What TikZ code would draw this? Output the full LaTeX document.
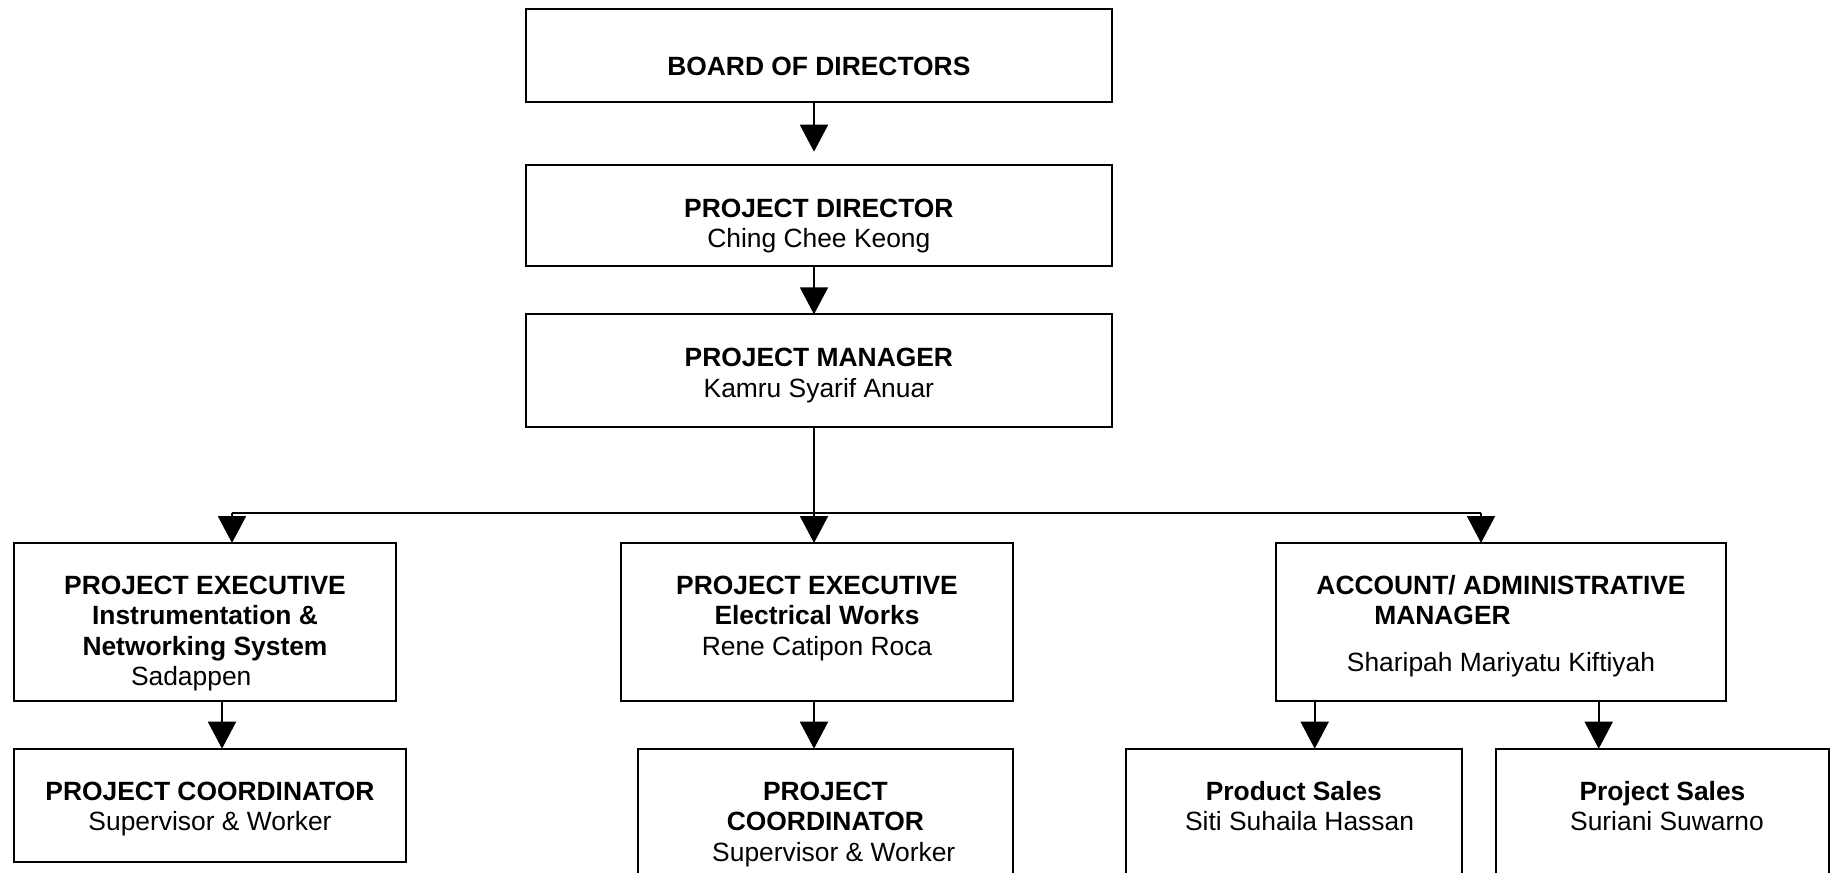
\documentclass[tikz,border=0pt]{standalone}
\usepackage{fontspec}
\setmainfont{Liberation Sans}
\usetikzlibrary{arrows.meta}
\newcommand{\OrgTxt}[4]{\parbox[c][#2][t]{#1}{\fontsize{13.2pt}{15.25pt}\selectfont\centering\vspace*{#3}#4}}
\tikzset{
  orgbox/.style={draw, line width=1pt, inner sep=0pt, outer sep=0pt, anchor=north west},
  arr/.style={line width=1pt, -{Triangle[width=14pt,length=13.5pt]}},
  bus/.style={line width=1pt}
}
\begin{document}
\begin{tikzpicture}[x=0.5pt,y=-0.5pt]
\useasboundingbox (0,0) rectangle (1832,873);
\clip (0,0) rectangle (1832,873);
\fill[white] (0,0) rectangle (1832,873);

\node[orgbox] (board) at (526,9) {\OrgTxt{292.85pt}{46.65pt}{22.8pt}{\strut\textbf{BOARD OF DIRECTORS}}};
\node[orgbox] (pd) at (526,164.7) {\OrgTxt{292.85pt}{50.5pt}{15.6pt}{\strut\textbf{PROJECT DIRECTOR}\\\strut Ching Chee Keong}};
\node[orgbox] (pm) at (526,314.3) {\OrgTxt{292.85pt}{56.2pt}{15.5pt}{\strut\textbf{PROJECT MANAGER}\\\strut Kamru Syarif Anuar}};

\node[orgbox] (pe1) at (14,543) {\OrgTxt{191pt}{79pt}{15pt}{\strut\textbf{PROJECT EXECUTIVE}\\\strut\textbf{Instrumentation \&}\\\strut\textbf{Networking System}\\\strut Sadappen\hspace*{13.8pt}\null}};
\node[orgbox] (pe2) at (621,543) {\OrgTxt{196pt}{79pt}{15pt}{\strut\textbf{PROJECT EXECUTIVE}\\\strut\textbf{Electrical Works}\\\strut Rene Catipon Roca}};
\node[orgbox] (acc) at (1275.7,543) {\OrgTxt{225.3pt}{79pt}{15pt}{\strut\textbf{ACCOUNT/ ADMINISTRATIVE}\\\strut\textbf{MANAGER}\hspace*{58.5pt}\null\\[8.1pt]\strut Sharipah Mariyatu Kiftiyah}};

\node[orgbox] (pc1) at (14,748.7) {\OrgTxt{196pt}{56.65pt}{15pt}{\strut\textbf{PROJECT COORDINATOR}\\\strut Supervisor \& Worker}};
\node[orgbox] (pc2) at (637.7,748.7) {\OrgTxt{187.65pt}{75.65pt}{15pt}{\strut\textbf{PROJECT}\\\strut\textbf{COORDINATOR}\\\strut\hspace*{8.4pt}Supervisor \& Worker}};
\node[orgbox] (ps1) at (1126,748.7) {\OrgTxt{167.85pt}{75.65pt}{15pt}{\strut\textbf{Product Sales}\\\strut\hspace*{5.7pt}Siti Suhaila Hassan}};
\node[orgbox] (ps2) at (1495.7,748.7) {\OrgTxt{166.8pt}{75.65pt}{15pt}{\strut\textbf{Project Sales}\\\strut\hspace*{4.5pt}Suriani Suwarno}};

\coordinate (sp) at (814,0);
\coordinate (c1) at (222,0);
\coordinate (c3) at (1314.7,0);
\coordinate (c4) at (1598.7,0);
\coordinate (busL) at (232,512.7);
\coordinate (busR) at (1481,512.7);

\draw[arr, shorten >=6.5pt] (board.south -| sp) -- (pd.north -| sp);
\draw[arr] (pd.south -| sp) -- (pm.north -| sp);
\draw[arr] (pm.south -| sp) -- (pe2.north -| sp);
\draw[bus] (busL) -- (busR);
\draw[arr] (busL) -- (pe1.north -| busL);
\draw[arr] (busR) -- (acc.north -| busR);
\draw[arr] (pe1.south -| c1) -- (pc1.north -| c1);
\draw[arr] (pe2.south -| sp) -- (pc2.north -| sp);
\draw[arr] (acc.south -| c3) -- (ps1.north -| c3);
\draw[arr] (acc.south -| c4) -- (ps2.north -| c4);
\end{tikzpicture}
\end{document}
